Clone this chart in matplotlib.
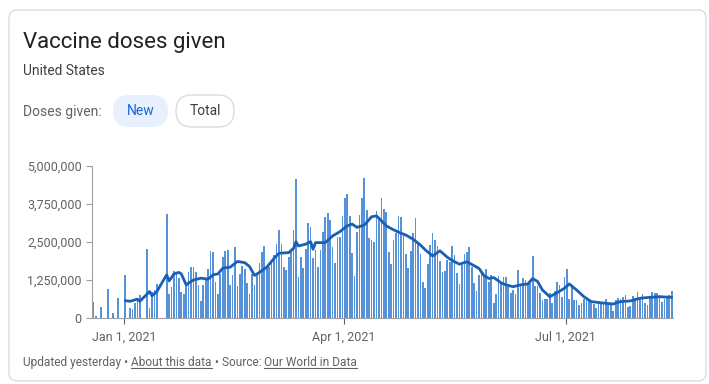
import numpy as np
import pandas as pd
import matplotlib
matplotlib.use("Agg")
import matplotlib.pyplot as plt
from matplotlib.patches import FancyBboxPatch
from matplotlib.ticker import FuncFormatter

plt.rcParams['font.family'] = ['Roboto', 'DejaVu Sans']

W, H = 709, 384

# daily doses in millions, starting 2020-12-19 (0 = no report that day)
dec = [0.54, 0.05, 0, 0.37, 0, 0, 0.94, 0, 0.15, 0, 0.67, 0, 0]
jan = [1.43, 0, 0.34, 0.29, 0.48, 0.60, 0.75, 0, 0, 2.27,
       0.34, 0.85, 0.92, 1.12, 0, 0, 0, 3.43, 0.79, 1.03,
       1.55, 1.50, 1.30, 0.85, 0.80, 1.10, 1.52, 1.67, 1.68, 1.50, 1.10]
feb = [0.55, 1.10, 1.25, 1.62, 2.22, 2.18, 1.19, 0.80, 1.45, 2.02,
       2.20, 2.24, 1.10, 1.40, 2.35, 1.06, 1.45, 1.70, 1.62, 1.15,
       0.80, 1.45, 1.10, 1.45, 1.80, 2.18, 2.37, 1.63]
mar = [1.69, 1.90, 2.07, 2.43, 2.90, 2.43, 1.69, 1.58, 2.00, 2.18,
       2.90, 4.57, 1.36, 2.00, 1.63, 2.26, 3.11, 3.00, 1.96, 2.24,
       1.69, 2.24, 2.84, 3.33, 3.46, 3.24, 2.35, 1.80, 2.68, 2.68, 3.36]
apr = [3.94, 4.08, 3.36, 2.13, 1.38, 2.84, 3.39, 3.94, 4.62, 3.55,
       2.62, 2.57, 2.51, 3.53, 3.33, 3.94, 3.57, 3.50, 2.18, 1.78,
       2.57, 2.79, 3.36, 3.31, 2.73, 2.11, 1.63, 2.20, 2.81, 3.28]
may = [2.48, 2.10, 1.20, 1.00, 1.78, 2.40, 2.79, 2.57, 2.37, 1.89,
       1.52, 1.56, 1.91, 1.85, 2.37, 2.07, 1.47, 1.12, 1.74, 2.11,
       2.18, 2.32, 1.69, 1.16, 0.90, 1.41, 1.52, 1.38, 1.60, 1.20, 1.41]
jun = [0.50, 0.79, 1.38, 1.14, 1.36, 1.34, 1.05, 0.81, 0.92, 0.79,
       1.58, 1.09, 1.30, 1.25, 1.09, 1.14, 2.04, 1.05, 1.05, 0.81,
       0.59, 0.61, 0.61, 0.81, 0.48, 0.90, 1.18, 1.09, 0.70, 1.34]
jul = [1.60, 0.61, 1.09, 0.59, 0.59, 0.43, 0.50, 0.61, 0.65, 0.59,
       0.54, 0.45, 0.32, 0.54, 0.54, 0.48, 0.61, 0.48, 0.48, 0.24,
       0.59, 0.65, 0.61, 0.68, 0.76, 0.37, 0.39, 0.72, 0.65, 0.87, 0.65]
aug = [0.79, 0.48, 0.43, 0.70, 0.87, 0.81, 0.83, 0.76, 0.54, 0.61,
       0.68, 0.76, 0.90]
doses = dec + jan + feb + mar + apr + may + jun + jul + aug

# 7-day average: days after Jan 1 2021, millions
avg_day = [0, 2, 5, 6, 8, 10, 11, 13, 15, 17, 18, 20, 22, 23, 25, 26, 28, 31,
           34, 36, 38, 40, 43, 46, 49, 51, 53, 55, 58, 61, 63, 67, 69, 70, 71,
           74, 76, 77, 78, 82, 85, 88, 91, 93, 95, 98, 101, 103, 105, 107,
           110, 113, 115, 118, 121, 123, 126, 129, 132, 134, 137, 140, 143,
           145, 147, 149, 151, 154, 156, 159, 162, 165, 167, 169, 171, 174,
           177, 180, 182, 185, 188, 191, 195, 200, 203, 207, 211, 215, 219, 224]
avg_val = [0.57, 0.55, 0.62, 0.55, 0.71, 0.87, 0.73, 0.87, 1.15, 1.42, 1.22,
           1.45, 1.50, 1.45, 1.09, 1.15, 1.25, 1.31, 1.28, 1.42, 1.45, 1.64,
           1.67, 1.86, 1.82, 1.69, 1.40, 1.50, 1.67, 1.96, 2.13, 2.15, 2.29,
           2.51, 2.37, 2.43, 2.51, 2.26, 2.48, 2.48, 2.70, 2.84, 3.03, 3.09,
           2.98, 3.06, 3.33, 3.36, 3.20, 3.03, 2.90, 2.79, 2.73, 2.59, 2.40,
           2.24, 2.04, 2.21, 2.00, 1.89, 1.77, 1.85, 1.72, 1.63, 1.40, 1.30,
           1.33, 1.16, 1.09, 1.03, 1.09, 1.12, 1.30, 1.20, 0.92, 0.70, 0.83,
           0.98, 1.12, 0.92, 0.70, 0.54, 0.50, 0.46, 0.54, 0.56, 0.65, 0.68,
           0.70, 0.68]

yticks = [0, 1250000, 2500000, 3750000, 5000000]
xticks = ["2021-01-01", "2021-04-01", "2021-07-01"]
xlabels = ["Jan 1, 2021", "Apr 1, 2021", "Jul 1, 2021"]

BAR = "#5592da"
LINE = "#1b5fb5"
AXIS = "#9aa0a6"
GREY = "#5f6368"

fig = plt.figure(figsize=(W / 100, H / 100), dpi=100)

# background layer in pixel coordinates
bg = fig.add_axes([0, 0, 1, 1], zorder=0)
bg.set_xlim(0, W)
bg.set_ylim(H, 0)
bg.axis("off")

bg.add_patch(FancyBboxPatch((9, 10), 697, 371, boxstyle="round,pad=0,rounding_size=8",
                            fc="white", ec="#dadce0", lw=1))
bg.text(23, 48, "Vaccine doses given", fontsize=16, color="#202124", va="baseline")
bg.text(23, 75, "United States", fontsize=9.9, color="#3c4043", va="baseline")
bg.text(23, 116, "Doses given:", fontsize=10, color=GREY, va="baseline")

bg.add_patch(FancyBboxPatch((113, 95), 55, 32, boxstyle="round,pad=0,rounding_size=16",
                            fc="#e8f0fe", ec="none"))
bg.text(140.5, 111, "New", fontsize=10, color="#1967d2", ha="center", va="center")
bg.add_patch(FancyBboxPatch((176, 95), 58, 32, boxstyle="round,pad=0,rounding_size=16",
                            fc="white", ec="#dadce0", lw=1))
bg.text(205, 111, "Total", fontsize=10, color="#3c4043", ha="center", va="center")

# footer with underlined links
renderer = fig.canvas.get_renderer()
x = 23
for s, link in [("Updated yesterday \u2022 ", False), ("About this data", True),
                (" \u2022 Source: ", False), ("Our World in Data", True)]:
    t = bg.text(x, 366, s, fontsize=8.6, color=GREY, va="baseline")
    bb = t.get_window_extent(renderer)
    if link:
        bg.plot([bb.x0, bb.x1], [368, 368], color=GREY, lw=0.8)
    x = bb.x1

# chart
ax = fig.add_axes([92 / W, (H - 318) / H, 581 / W, 152 / H], zorder=1)
ax.patch.set_alpha(0)

days = pd.date_range("2020-12-19", periods=len(doses), freq="D") + pd.Timedelta(hours=12)
ax.bar(days, np.array(doses) * 1e6, width=0.7, color=BAR, linewidth=0)

jan1 = pd.Timestamp("2021-01-01")
avg_dates = jan1 + pd.to_timedelta(avg_day, unit="D") + pd.Timedelta(hours=12)
ax.plot(avg_dates, np.array(avg_val) * 1e6, color=LINE, lw=2.0,
        solid_joinstyle="round", solid_capstyle="round")

ax.set_xlim(jan1 - pd.Timedelta(days=13.1), jan1 + pd.Timedelta(days=225.0))
ax.set_ylim(0, 5000000)
ax.set_yticks(yticks)
ax.yaxis.set_major_formatter(FuncFormatter(lambda v, p: f"{v:,.0f}"))
ax.set_xticks(pd.to_datetime(xticks))
ax.set_xticklabels(xlabels)

for side in ["top", "right"]:
    ax.spines[side].set_visible(False)
for side in ["left", "bottom"]:
    ax.spines[side].set_color(AXIS)
    ax.spines[side].set_linewidth(0.8)
ax.tick_params(axis="y", length=4.5, width=0.8, color=AXIS, pad=3,
               labelsize=9, labelcolor=GREY)
ax.tick_params(axis="x", length=4, width=0.8, color="#5f6368", pad=5,
               labelsize=9, labelcolor=GREY)

fig.savefig("out.png", dpi=100)
